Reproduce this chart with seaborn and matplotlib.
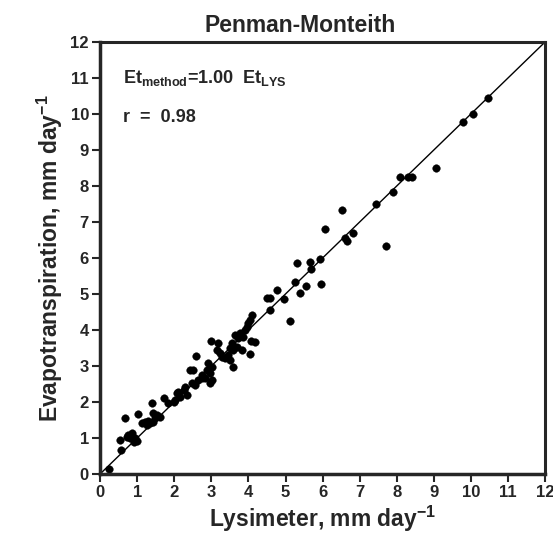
import matplotlib
matplotlib.use("Agg")
import matplotlib.pyplot as plt
import seaborn as sns
import numpy as np

lysimeter = [0.24, 0.57, 0.53, 0.66, 0.76, 0.85, 0.81, 0.94, 0.92, 0.99, 0.72, 1.03,
             1.12, 1.21, 1.30, 1.35, 1.26, 1.44, 1.48, 1.39, 1.44, 1.53, 1.62, 1.73,
             1.84, 1.98, 2.02, 2.07, 2.11, 2.25, 2.34, 2.16, 2.47, 2.56, 2.65, 2.74,
             2.29, 2.43, 2.51, 2.74, 2.83, 3.01, 2.96, 2.59, 2.92, 3.01, 2.88, 2.96,
             2.98, 3.19, 3.14, 3.23, 3.28, 3.44, 3.37, 3.50, 3.58, 3.55, 3.68, 3.59,
             3.50, 3.82, 3.77, 3.86, 3.73, 3.64, 3.95, 3.91, 3.99, 4.04, 4.09, 4.18,
             4.04, 4.08, 4.49, 4.58, 4.58, 4.78, 4.97, 5.12, 5.26, 5.30, 5.39, 5.55,
             5.66, 5.70, 5.93, 5.96, 6.06, 6.51, 6.60, 6.65, 6.83, 7.44, 7.71, 7.89,
             8.09, 8.31, 8.40, 9.05, 9.78, 10.05, 10.45]
method = [0.14, 0.66, 0.94, 1.55, 1.08, 1.13, 0.99, 0.99, 0.90, 0.93, 1.04, 1.67,
          1.43, 1.45, 1.48, 1.41, 1.36, 1.45, 1.55, 1.96, 1.69, 1.64, 1.59, 2.10,
          1.96, 2.01, 2.06, 2.24, 2.29, 2.33, 2.19, 2.15, 2.52, 2.47, 2.61, 2.66,
          2.43, 2.89, 2.90, 2.75, 2.66, 2.61, 2.52, 3.29, 3.07, 2.98, 2.89, 2.80,
          3.70, 3.65, 3.44, 3.35, 3.26, 3.31, 3.21, 3.17, 2.98, 3.63, 3.54, 3.44,
          3.49, 3.44, 3.91, 3.81, 3.77, 3.86, 4.09, 4.00, 4.19, 4.28, 4.42, 3.66,
          3.32, 3.70, 4.88, 4.88, 4.56, 5.11, 4.86, 4.25, 5.32, 5.85, 5.02, 5.22,
          5.90, 5.69, 5.96, 5.28, 6.80, 7.33, 6.55, 6.47, 6.69, 7.49, 6.34, 7.82,
          8.26, 8.26, 8.26, 8.49, 9.78, 10.00, 10.45]
line_x = [0, 12]
line_y = [0, 12]
ticks = list(range(0, 13))

sns.set_style("ticks")
plt.rcParams['font.family'] = ['Liberation Sans', 'DejaVu Sans']
plt.rcParams['font.weight'] = 'bold'
plt.rcParams['mathtext.fontset'] = 'custom'
plt.rcParams['mathtext.rm'] = 'Liberation Sans:bold'
plt.rcParams['mathtext.bf'] = 'Liberation Sans:bold'
plt.rcParams['mathtext.it'] = 'Liberation Sans:bold'

fig = plt.figure(figsize=(5.53, 5.36), dpi=100)
ax = fig.add_axes([0.181, 0.1157, 0.8047, 0.806])

ax.plot(line_x, line_y, color='black', lw=1.0, zorder=1)
sns.scatterplot(x=lysimeter, y=method, color='black', s=30, edgecolor='black',
                linewidth=0.3, ax=ax, zorder=2)

ax.set_xlim(0, 12)
ax.set_ylim(0, 12)
ax.set_xticks(ticks)
ax.set_yticks(ticks)
ax.set_xticklabels([str(t) for t in ticks], fontsize=12, fontweight='bold')
ax.set_yticklabels([str(t) for t in ticks], fontsize=12, fontweight='bold')
ax.tick_params(direction='out', length=6, width=1.5, top=False, right=False, pad=2)
for side in ['left', 'bottom']:
    ax.spines[side].set_linewidth(2.5)
for side in ['top', 'right']:
    ax.spines[side].set_linewidth(2.2)

ax.set_xlabel(r'Lysimeter, mm day$^{\mathbf{-1}}$', fontsize=16.5, fontweight='bold', labelpad=3)
ax.set_ylabel(r'Evapotranspiration, mm day$^{\mathbf{-1}}$', fontsize=16.5, fontweight='bold', labelpad=4)
ax.set_title('Penman-Monteith', fontsize=16.5, fontweight='bold', pad=7, x=0.45)

ax.text(0.052, 0.905, r'$\mathrm{Et}_{\mathrm{method}}$=1.00  $\mathrm{Et}_{\mathrm{LYS}}$',
        transform=ax.transAxes, fontsize=13, fontweight='bold', va='baseline', ha='left')
ax.text(0.052, 0.815, 'r  =  0.98', transform=ax.transAxes, fontsize=13,
        fontweight='bold', va='baseline', ha='left')

fig.savefig('out.png', dpi=100)
